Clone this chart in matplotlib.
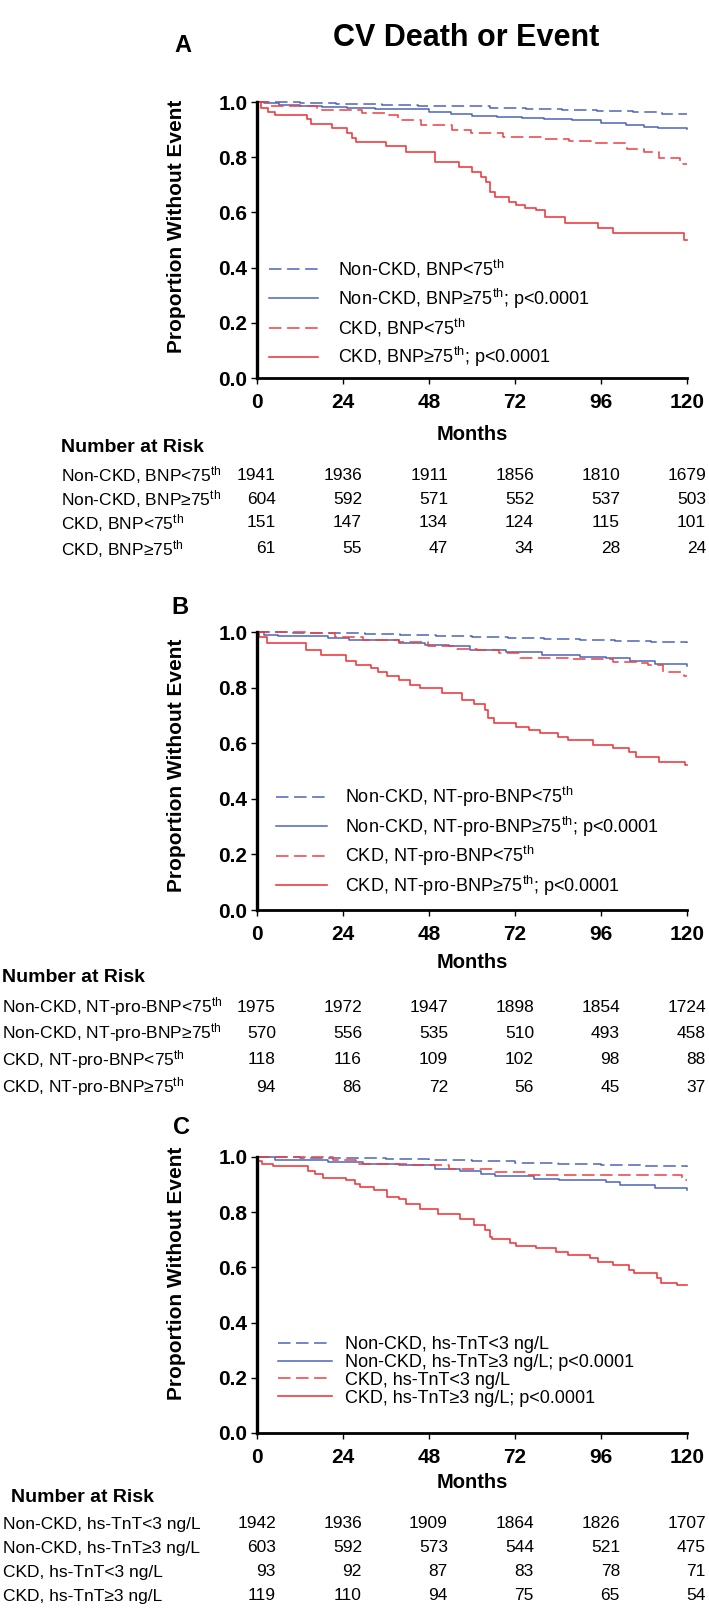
import matplotlib
matplotlib.use('Agg')
import matplotlib.pyplot as plt
from matplotlib.transforms import blended_transform_factory

plt.rcParams['font.family'] = ['Liberation Sans', 'DejaVu Sans']
plt.rcParams['mathtext.fontset'] = 'custom'
plt.rcParams['mathtext.rm'] = 'Liberation Sans'
plt.rcParams['mathtext.it'] = 'Liberation Sans:italic'
plt.rcParams['mathtext.bf'] = 'Liberation Sans:bold'
plt.rcParams['lines.scale_dashes'] = False

BLUE = '#4d63bb'
RED = '#ee3e42'
W, H = 709, 1613

month_ticks = [0, 24, 48, 72, 96, 120]
y_ticks = [0.0, 0.2, 0.4, 0.6, 0.8, 1.0]

# --- Panel A: BNP ---
a_nckd_lo_t = [0, 12, 22, 35, 45, 55, 65, 75, 85, 95, 105, 113, 120]
a_nckd_lo_s = [1.0, 0.997, 0.994, 0.99, 0.987, 0.984, 0.979, 0.975, 0.97, 0.966, 0.962, 0.958, 0.957]
a_nckd_hi_t = [0, 2, 6, 12, 18, 25, 33, 42, 48, 54, 60, 67, 74, 80, 88, 96, 103, 108, 112, 120]
a_nckd_hi_s = [1.0, 0.995, 0.99, 0.985, 0.982, 0.979, 0.976, 0.973, 0.965, 0.955, 0.951, 0.945, 0.941,
               0.937, 0.933, 0.925, 0.918, 0.91, 0.904, 0.902]
a_ckd_lo_t = [0, 3, 16.7, 29.3, 36.9, 39.4, 45.7, 54.5, 59.6, 68.6, 79.4, 87, 93.3, 103.2, 108, 112.2, 118.1, 120]
a_ckd_lo_s = [1.0, 0.985, 0.97, 0.96, 0.953, 0.935, 0.917, 0.899, 0.887, 0.872, 0.865, 0.857, 0.85, 0.83,
              0.82, 0.797, 0.775, 0.775]
a_ckd_hi_t = [0, 1, 3, 5, 14, 15, 21, 25, 26.5, 27.7, 36, 41.6, 49.6, 56.5, 60, 62.5, 64, 65, 66.5, 70.4,
              72.4, 74.9, 77.9, 80.4, 85.9, 95.3, 99.3, 119.2, 120]
a_ckd_hi_s = [1.0, 0.98, 0.965, 0.953, 0.94, 0.92, 0.905, 0.887, 0.87, 0.856, 0.84, 0.82, 0.784, 0.766,
              0.747, 0.73, 0.71, 0.675, 0.657, 0.639, 0.627, 0.617, 0.609, 0.583, 0.563, 0.543, 0.524, 0.5, 0.5]

# --- Panel B: NT-pro-BNP ---
b_nckd_lo_t = [0, 10, 20, 30, 40, 50, 60, 70, 80, 90, 100, 110, 120]
b_nckd_lo_s = [1.0, 0.998, 0.995, 0.992, 0.989, 0.986, 0.983, 0.98, 0.976, 0.972, 0.968, 0.964, 0.962]
b_nckd_hi_t = [0, 2, 5.8, 19.8, 25.8, 39.7, 47, 53.6, 59.5, 69.5, 79.4, 90, 97.3, 104.2, 111.2, 120]
b_nckd_hi_s = [1.0, 0.99, 0.985, 0.98, 0.97, 0.962, 0.955, 0.948, 0.936, 0.928, 0.917, 0.91, 0.905,
               0.897, 0.884, 0.878]
b_ckd_lo_t = [0, 13.8, 21.8, 29.7, 39.7, 47.6, 55.6, 61.5, 67.5, 73.4, 87.3, 99.3, 107.2, 109.2, 113.2,
              119.1, 120]
b_ckd_lo_s = [1.0, 0.995, 0.983, 0.97, 0.965, 0.95, 0.94, 0.935, 0.923, 0.905, 0.902, 0.893, 0.887, 0.88,
              0.857, 0.842, 0.842]
b_ckd_hi_t = [0, 0.5, 2.9, 13.8, 17.8, 24.8, 27.7, 31.7, 33.7, 36.2, 39.7, 42.6, 45.6, 51.6, 57.1, 60.5,
              63.5, 64.5, 66, 72.4, 75.9, 78.9, 83.9, 86.8, 93.8, 99.3, 103.7, 105.7, 112.2, 119.5, 120]
b_ckd_hi_s = [1.0, 0.983, 0.96, 0.935, 0.917, 0.895, 0.88, 0.869, 0.857, 0.842, 0.827, 0.809, 0.797,
              0.779, 0.755, 0.741, 0.72, 0.69, 0.672, 0.66, 0.648, 0.636, 0.624, 0.612, 0.594, 0.582,
              0.57, 0.552, 0.534, 0.52, 0.52]

# --- Panel C: hs-TnT ---
c_nckd_lo_t = [0, 12, 24, 36, 48, 60, 72, 84, 96, 108, 120]
c_nckd_lo_s = [1.0, 0.998, 0.995, 0.992, 0.988, 0.984, 0.98, 0.976, 0.972, 0.966, 0.962]
c_nckd_hi_t = [0, 4.9, 19.8, 29.7, 39.7, 49.6, 56.6, 62.5, 66.5, 77.4, 84.4, 97.3, 101.2, 111.2, 120]
c_nckd_hi_s = [1.0, 0.988, 0.982, 0.974, 0.97, 0.958, 0.949, 0.94, 0.93, 0.922, 0.915, 0.91, 0.898,
               0.889, 0.882]
c_ckd_lo_t = [0, 21.3, 27.7, 42.6, 53.6, 66.5, 75.4, 118.7, 120]
c_ckd_lo_s = [1.0, 0.988, 0.976, 0.97, 0.958, 0.946, 0.934, 0.915, 0.915]
c_ckd_hi_t = [0, 0.4, 1.4, 4.4, 14.3, 16.3, 18.3, 24.8, 27.3, 28.7, 32.7, 36.2, 39.7, 41.6, 45.6, 50.6,
              56.6, 60.5, 63.5, 65, 65.5, 70.5, 72.4, 77.9, 83.4, 86.8, 92.8, 95.3, 99.3, 103.7, 105.2,
              111.7, 112.7, 117.2, 120]
c_ckd_hi_s = [1.0, 0.986, 0.976, 0.966, 0.949, 0.937, 0.925, 0.915, 0.903, 0.892, 0.882, 0.856, 0.847,
              0.831, 0.813, 0.795, 0.777, 0.753, 0.735, 0.711, 0.702, 0.69, 0.679, 0.669, 0.657, 0.645,
              0.633, 0.621, 0.609, 0.591, 0.579, 0.561, 0.545, 0.537, 0.537]

TH = r'$^{\rm th}$'
a_labels = ['Non-CKD, BNP<75' + TH, 'Non-CKD, BNP≥75' + TH, 'CKD, BNP<75' + TH, 'CKD, BNP≥75' + TH]
b_labels = ['Non-CKD, NT-pro-BNP<75' + TH, 'Non-CKD, NT-pro-BNP≥75' + TH,
            'CKD, NT-pro-BNP<75' + TH, 'CKD, NT-pro-BNP≥75' + TH]
c_labels = ['Non-CKD, hs-TnT<3 ng/L', 'Non-CKD, hs-TnT≥3 ng/L', 'CKD, hs-TnT<3 ng/L', 'CKD, hs-TnT≥3 ng/L']

a_risk = [[1941, 1936, 1911, 1856, 1810, 1679],
          [604, 592, 571, 552, 537, 503],
          [151, 147, 134, 124, 115, 101],
          [61, 55, 47, 34, 28, 24]]
b_risk = [[1975, 1972, 1947, 1898, 1854, 1724],
          [570, 556, 535, 510, 493, 458],
          [118, 116, 109, 102, 98, 88],
          [94, 86, 72, 56, 45, 37]]
c_risk = [[1942, 1936, 1909, 1864, 1826, 1707],
          [603, 592, 573, 544, 521, 475],
          [93, 92, 87, 83, 78, 71],
          [119, 110, 94, 75, 65, 54]]

P = '; p<0.0001'
DASH = (0, (9, 4))


def fy(y):
    # pixel row -> figure fraction
    return 1 - y / H


def panel(fig, letter, curves, labels, risk, lay):
    left, right, top, bot = 257, 687, lay['top'], lay['bot']
    ax = fig.add_axes([left / W, fy(bot), (right - left) / W, (bot - top) / H])
    styles = [(BLUE, DASH, 1.1), (BLUE, '-', 1.1), (RED, DASH, 1.1), (RED, '-', 1.2)]
    leg_labels = [labels[0], labels[1] + P, labels[2], labels[3] + P]
    for (t, s), (c, ls, lw), lab in zip(curves, styles, leg_labels):
        ax.plot(t, s, drawstyle='steps-post', color=c, linestyle=ls, lw=lw, label=lab, clip_on=False)
    ax.set_xlim(0, 120)
    ax.set_ylim(0, 1.0)
    ax.set_xticks(month_ticks)
    ax.set_yticks(y_ticks)
    ax.set_yticklabels(['%.1f' % v for v in y_ticks])
    for sp in ['top', 'right']:
        ax.spines[sp].set_visible(False)
    ax.spines['left'].set_linewidth(2.4)
    ax.spines['bottom'].set_linewidth(2.0)
    ax.tick_params(direction='out', length=4, width=1, labelsize=15)
    ax.tick_params(axis='x', pad=7)
    ax.tick_params(axis='y', pad=3)
    for lb in ax.get_xticklabels() + ax.get_yticklabels():
        lb.set_fontweight('bold')

    ax.set_ylabel('Proportion Without Event', fontsize=15, fontweight='bold')
    ax.yaxis.label.set_va('center')
    ax.yaxis.set_label_coords((177 - left) / (right - left), lay['ylab'])
    ax.set_xlabel('Months', fontsize=14.5, fontweight='bold')
    ax.xaxis.label.set_va('center')
    ax.xaxis.set_label_coords(0.5, (bot - lay['months']) / (bot - top))

    hx = (lay['hx'] - left) / (right - left)
    hy = (bot - (lay['leg'] - 12)) / (bot - top)
    ax.legend(loc='upper left', bbox_to_anchor=(hx, hy), frameon=False, fontsize=13,
              borderpad=0, borderaxespad=0, handlelength=lay['hl'], handletextpad=lay['htp'],
              labelspacing=lay['ls'])

    fig.text(lay['lx'], fy(lay['letter']), letter, fontsize=17, fontweight='bold', ha='center', va='center')

    # number at risk table
    fig.text(lay['nx'] / W, fy(lay['nar']), 'Number at Risk', fontsize=14, fontweight='bold', va='center')
    tr = blended_transform_factory(ax.transData, fig.transFigure)
    for lab, row, y in zip(labels, risk, lay['rows']):
        fig.text(lay['rx'] / W, fy(y), lab, fontsize=12.5, va='center')
        for m, n in zip(month_ticks, row):
            ax.text(m + 5.3, fy(y), str(n), transform=tr, fontsize=12.5, ha='right', va='center')
    return ax


fig = plt.figure(figsize=(W / 100, H / 100), dpi=100)
fig.text(466 / W, fy(38), 'CV Death or Event', fontsize=22, fontweight='bold', ha='center', va='center')

panel(fig, 'A',
      [(a_nckd_lo_t, a_nckd_lo_s), (a_nckd_hi_t, a_nckd_hi_s), (a_ckd_lo_t, a_ckd_lo_s), (a_ckd_hi_t, a_ckd_hi_s)],
      a_labels, a_risk,
      dict(top=102, bot=378, ylab=0.55, months=435, leg=270, hx=269, hl=2.7, htp=1.1, ls=0.35,
           lx=183 / W, letter=45, nx=61, nar=447, rx=61, rows=[475, 499, 523, 549]))
panel(fig, 'B',
      [(b_nckd_lo_t, b_nckd_lo_s), (b_nckd_hi_t, b_nckd_hi_s), (b_ckd_lo_t, b_ckd_lo_s), (b_ckd_hi_t, b_ckd_hi_s)],
      b_labels, b_risk,
      dict(top=632, bot=910, ylab=0.52, months=963, leg=797, hx=276, hl=2.8, htp=1.0, ls=0.3,
           lx=180 / W, letter=607, nx=2, nar=977, rx=2, rows=[1007, 1033, 1060, 1087]))
panel(fig, 'C',
      [(c_nckd_lo_t, c_nckd_lo_s), (c_nckd_hi_t, c_nckd_hi_s), (c_ckd_lo_t, c_ckd_lo_s), (c_ckd_hi_t, c_ckd_hi_s)],
      c_labels, c_risk,
      dict(top=1157, bot=1433, ylab=0.58, months=1482, leg=1348, hx=278, hl=3.0, htp=0.7, ls=0.05,
           lx=182 / W, letter=1128, nx=11, nar=1497, rx=3, rows=[1524, 1548, 1572, 1596]))

fig.savefig('out.png', dpi=100)
